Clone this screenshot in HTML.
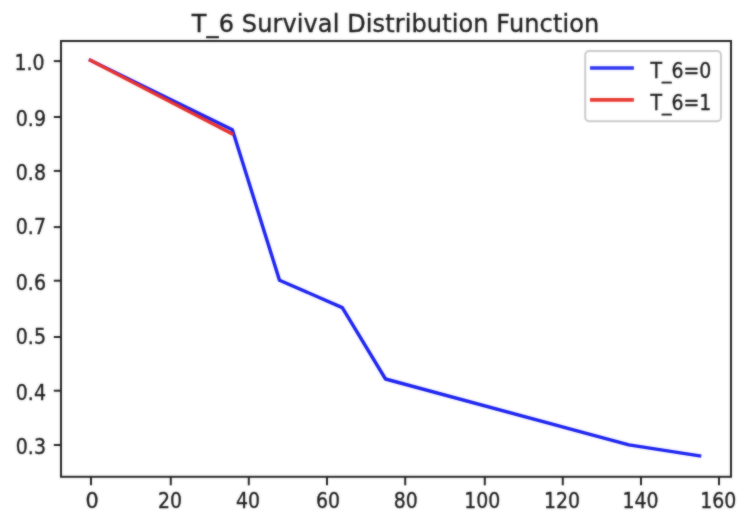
<!DOCTYPE html>
<html lang="en"><head><meta charset="utf-8"><title>T_6 Survival Distribution Function</title>
<style>html,body{margin:0;padding:0;background:#fff}svg{display:block}text{font-family:"DejaVu Sans","Liberation Sans",sans-serif;fill:#1c1c1c;stroke:#1c1c1c;stroke-width:0.35px}</style></head><body>
<svg width="750" height="524" viewBox="0 0 750 524">
<rect width="750" height="524" fill="#fff"/>
<defs><filter id="soft" filterUnits="userSpaceOnUse" x="0" y="0" width="750" height="524" color-interpolation-filters="sRGB"><feGaussianBlur in="SourceGraphic" stdDeviation="0.8" result="b"/><feComposite in="b" in2="SourceGraphic" operator="arithmetic" k1="0" k2="0.5" k3="0.5" k4="0"/></filter></defs>
<g filter="url(#soft)">
<polyline points="90.4,60.2 232.4,129.7 279.5,280.2 342.3,307.6 385.5,379.0 628.9,444.9 699.6,455.9" fill="none" stroke="#1a20f0" stroke-width="3.4" stroke-linejoin="round" stroke-linecap="square"/>
<polyline points="88.9,59.6 233.3,134.4" fill="none" stroke="#e8302c" stroke-width="3.4" stroke-linecap="butt"/>
<rect x="61.0" y="41.0" width="670.0" height="435.8" fill="none" stroke="#222222" stroke-width="2.0"/>
<line x1="91.0" y1="476.8" x2="91.0" y2="485.3" stroke="#222222" stroke-width="2.0"/>
<text transform="translate(92.0,508.2) scale(1.04,1.09)" font-size="20" text-anchor="middle">0</text>
<line x1="170.8" y1="476.8" x2="170.8" y2="485.3" stroke="#222222" stroke-width="2.0"/>
<text transform="translate(170.0,508.2) scale(0.945,1.09)" font-size="20" text-anchor="middle">20</text>
<line x1="248.8" y1="476.8" x2="248.8" y2="485.3" stroke="#222222" stroke-width="2.0"/>
<text transform="translate(247.9,508.2) scale(0.945,1.09)" font-size="20" text-anchor="middle">40</text>
<line x1="327.0" y1="476.8" x2="327.0" y2="485.3" stroke="#222222" stroke-width="2.0"/>
<text transform="translate(328.0,508.2) scale(0.945,1.09)" font-size="20" text-anchor="middle">60</text>
<line x1="405.2" y1="476.8" x2="405.2" y2="485.3" stroke="#222222" stroke-width="2.0"/>
<text transform="translate(405.7,508.2) scale(0.945,1.09)" font-size="20" text-anchor="middle">80</text>
<line x1="484.8" y1="476.8" x2="484.8" y2="485.3" stroke="#222222" stroke-width="2.0"/>
<text transform="translate(482.3,508.2) scale(0.945,1.09)" font-size="20" text-anchor="middle">100</text>
<line x1="562.8" y1="476.8" x2="562.8" y2="485.3" stroke="#222222" stroke-width="2.0"/>
<text transform="translate(561.9,508.2) scale(0.945,1.09)" font-size="20" text-anchor="middle">120</text>
<line x1="641.0" y1="476.8" x2="641.0" y2="485.3" stroke="#222222" stroke-width="2.0"/>
<text transform="translate(640.5,508.2) scale(0.945,1.09)" font-size="20" text-anchor="middle">140</text>
<line x1="719.0" y1="476.8" x2="719.0" y2="485.3" stroke="#222222" stroke-width="2.0"/>
<text transform="translate(718.2,508.2) scale(0.945,1.09)" font-size="20" text-anchor="middle">160</text>
<line x1="53.8" y1="61.1" x2="61.0" y2="61.1" stroke="#222222" stroke-width="2.0"/>
<text transform="translate(44.6,70.0) scale(0.95,1.09)" font-size="20" text-anchor="end">1.0</text>
<line x1="53.8" y1="117.0" x2="61.0" y2="117.0" stroke="#222222" stroke-width="2.0"/>
<text transform="translate(46.0,126.0) scale(0.95,1.09)" font-size="20" text-anchor="end">0.9</text>
<line x1="53.8" y1="170.9" x2="61.0" y2="170.9" stroke="#222222" stroke-width="2.0"/>
<text transform="translate(46.0,180.0) scale(0.95,1.09)" font-size="20" text-anchor="end">0.8</text>
<line x1="53.8" y1="227.1" x2="61.0" y2="227.1" stroke="#222222" stroke-width="2.0"/>
<text transform="translate(46.0,234.0) scale(0.95,1.09)" font-size="20" text-anchor="end">0.7</text>
<line x1="53.8" y1="280.7" x2="61.0" y2="280.7" stroke="#222222" stroke-width="2.0"/>
<text transform="translate(46.0,290.0) scale(0.95,1.09)" font-size="20" text-anchor="end">0.6</text>
<line x1="53.8" y1="337.0" x2="61.0" y2="337.0" stroke="#222222" stroke-width="2.0"/>
<text transform="translate(46.0,344.0) scale(0.95,1.09)" font-size="20" text-anchor="end">0.5</text>
<line x1="53.8" y1="390.7" x2="61.0" y2="390.7" stroke="#222222" stroke-width="2.0"/>
<text transform="translate(46.0,400.0) scale(0.95,1.09)" font-size="20" text-anchor="end">0.4</text>
<line x1="53.8" y1="445.0" x2="61.0" y2="445.0" stroke="#222222" stroke-width="2.0"/>
<text transform="translate(46.0,454.0) scale(0.95,1.09)" font-size="20" text-anchor="end">0.3</text>
<text x="395.5" y="31.9" font-size="24" text-anchor="middle" textLength="407.4" lengthAdjust="spacing">T_6 Survival Distribution Function</text>
<rect x="585.2" y="51" width="135.8" height="70.2" rx="4" ry="4" fill="#fff" fill-opacity="0.8" stroke="#cacaca" stroke-width="2"/>
<line x1="590" y1="68" x2="633.9" y2="68" stroke="#2a32f0" stroke-width="3.6"/>
<line x1="590" y1="99.9" x2="633.9" y2="99.9" stroke="#e83a32" stroke-width="3.6"/>
<text transform="translate(650.5,77.8) scale(0.945,1.09)" font-size="20">T_6=0</text>
<text transform="translate(650.5,109.8) scale(0.945,1.09)" font-size="20">T_6=1</text>
</g>
</svg></body></html>
